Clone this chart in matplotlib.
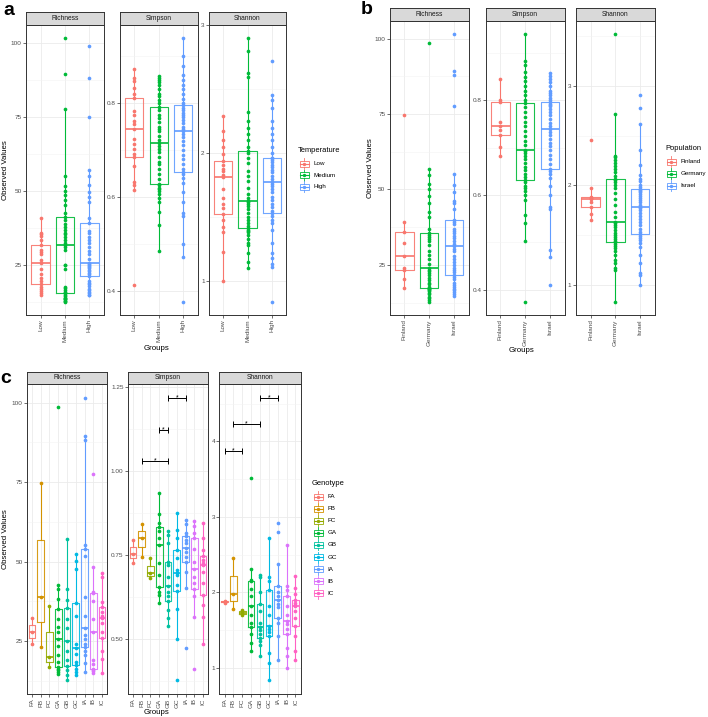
import numpy as np
import matplotlib
matplotlib.use("Agg")
import matplotlib.pyplot as plt
from matplotlib.ticker import MultipleLocator, FormatStrFormatter
from matplotlib.patches import Rectangle

plt.rcParams['font.family'] = ['Liberation Sans', 'DejaVu Sans']

# ---- categorias y colores
temp_groups = ["Low", "Medium", "High"]
pop_groups = ["Finland", "Germany", "Israel"]
geno_groups = ["FA", "FB", "FC", "GA", "GB", "GC", "IA", "IB", "IC"]
pal3 = ["#F8766D", "#00BA38", "#619CFF"]
pal9 = ["#F8766D", "#D39200", "#93AA00", "#00BA38", "#00C19F",
        "#00B9E3", "#619CFF", "#DB72FB", "#FF61C3"]

# ---- panel a (Temperature)
a_richness = [
    [14.8, 15.5, 16.3, 17, 17.7, 18.7, 19.5, 20.7, 22.1, 23.8, 25.6, 26.9, 28.6, 29.5, 30, 31.7, 33.4, 35, 35.5, 36, 41],
    [12.6, 13, 13, 13.5, 13.5, 14, 14, 14.5, 15, 15.5, 15.7, 16, 16.5, 17.3, 17.5, 23.8, 24.9, 25, 30, 31, 31.8,
     32.5, 33.4, 34.5, 35.5, 36, 37, 38, 39, 40.4, 41.3, 42.6, 45.4, 47.1, 48.8, 50.2, 51.6, 55.2, 77.6, 89.5, 101.7],
    [14.8, 15, 15.5, 16, 16.6, 17, 17.9, 18.5, 19, 19.6, 21.4, 22, 22.4, 23, 23.3, 24, 24.2, 24.7, 25, 25.5, 25.8,
     27.1, 28.6, 29.7, 31.2, 32.5, 33.4, 34.5, 35.9, 36.4, 39.2, 41, 46.5, 48, 49.6, 52.1, 55.2, 57, 74.9, 88.2, 98.9],
]
a_simpson = [
    [0.411, 0.614, 0.625, 0.632, 0.665, 0.686, 0.692, 0.703, 0.713, 0.724, 0.745, 0.755, 0.763, 0.774, 0.783,
     0.811, 0.82, 0.833, 0.848, 0.855, 0.873],
    [0.485, 0.54, 0.568, 0.59, 0.598, 0.607, 0.612, 0.617, 0.62, 0.625, 0.627, 0.638, 0.65, 0.66, 0.67, 0.675,
     0.685, 0.695, 0.703, 0.708, 0.715, 0.722, 0.73, 0.74, 0.745, 0.75, 0.76, 0.768, 0.775, 0.785, 0.793, 0.8,
     0.806, 0.815, 0.82, 0.83, 0.838, 0.845, 0.85, 0.855, 0.859],
    [0.376, 0.472, 0.5, 0.56, 0.565, 0.59, 0.61, 0.63, 0.64, 0.648, 0.653, 0.66, 0.67, 0.68, 0.69, 0.7, 0.71,
     0.72, 0.728, 0.735, 0.74, 0.745, 0.75, 0.758, 0.765, 0.77, 0.775, 0.78, 0.785, 0.79, 0.796, 0.8, 0.81, 0.82,
     0.83, 0.84, 0.85, 0.86, 0.88, 0.9, 0.939],
]
a_shannon = [
    [1.0, 1.23, 1.38, 1.42, 1.48, 1.522, 1.57, 1.6, 1.65, 1.72, 1.81, 1.83, 1.86, 1.88, 1.91, 1.939, 1.99, 2.05,
     2.1, 2.17, 2.288],
    [1.098, 1.15, 1.22, 1.28, 1.3, 1.33, 1.36, 1.38, 1.39, 1.4, 1.414, 1.43, 1.45, 1.48, 1.5, 1.53, 1.56, 1.59,
     1.6, 1.62, 1.627, 1.65, 1.68, 1.73, 1.78, 1.82, 1.86, 1.92, 1.96, 2.0, 2.017, 2.05, 2.1, 2.15, 2.2, 2.25,
     2.32, 2.6, 2.63, 2.8, 2.9],
    [0.837, 1.108, 1.13, 1.18, 1.22, 1.3, 1.4, 1.45, 1.48, 1.51, 1.532, 1.55, 1.58, 1.6, 1.63, 1.66, 1.7, 1.72,
     1.74, 1.76, 1.776, 1.8, 1.82, 1.85, 1.87, 1.89, 1.91, 1.93, 1.95, 1.96, 1.966, 2.0, 2.05, 2.1, 2.15, 2.2,
     2.25, 2.35, 2.42, 2.454, 2.725],
]

# ---- panel b (Population)
b_richness = [
    [17.2, 20.3, 23.3, 24.1, 28, 32.4, 36, 39.2, 74.7],
    [12.8, 13.2, 13.9, 14.5, 15.3, 15.8, 16.4, 16.6, 16.9, 17.0, 17.2, 17.8, 18.5, 19.1, 20, 20.8, 21.5, 22.2, 23,
     23.3, 23.8, 25.2, 26.9, 28.2, 29.6, 31.5, 32.9, 33.5, 34.3, 35, 35.4, 36.9, 40.9, 42.5, 45.6, 47.8, 50.2,
     51.9, 54.9, 56.9, 98.6],
    [14.8, 15.2, 15.9, 16.5, 17, 17.5, 18.2, 19, 20.3, 21, 21.6, 22.5, 23.2, 24.1, 25, 25.8, 27, 28, 29.6, 30.3,
     31.1, 32, 32.9, 33.8, 34.6, 35.5, 36.2, 37, 38.7, 39.3, 39.9, 43.4, 45.6, 46.1, 49.1, 51.6, 55.1, 77.5, 87.9,
     89.3, 101.4],
]
b_simpson = [
    [0.682, 0.702, 0.726, 0.737, 0.746, 0.754, 0.796, 0.8, 0.844],
    [0.375, 0.502, 0.54, 0.558, 0.59, 0.6, 0.608, 0.614, 0.62, 0.627, 0.632, 0.638, 0.645, 0.652, 0.66, 0.668,
     0.675, 0.682, 0.688, 0.692, 0.696, 0.705, 0.715, 0.725, 0.735, 0.745, 0.755, 0.765, 0.775, 0.785, 0.795, 0.8,
     0.81, 0.82, 0.83, 0.84, 0.85, 0.86, 0.874, 0.882, 0.939],
    [0.41, 0.47, 0.485, 0.57, 0.575, 0.6, 0.62, 0.635, 0.645, 0.65, 0.655, 0.665, 0.675, 0.685, 0.695, 0.703,
     0.71, 0.718, 0.726, 0.733, 0.74, 0.745, 0.752, 0.76, 0.768, 0.775, 0.781, 0.787, 0.79, 0.793, 0.796, 0.8,
     0.805, 0.81, 0.815, 0.82, 0.83, 0.838, 0.845, 0.852, 0.858],
]
b_shannon = [
    [1.652, 1.71, 1.779, 1.83, 1.86, 1.87, 1.886, 1.977, 2.455],
    [0.833, 1.15, 1.17, 1.22, 1.25, 1.3, 1.34, 1.37, 1.39, 1.41, 1.428, 1.44, 1.46, 1.48, 1.5, 1.52, 1.55, 1.58,
     1.6, 1.62, 1.635, 1.68, 1.73, 1.8, 1.86, 1.92, 1.97, 2.0, 2.03, 2.05, 2.07, 2.1, 2.14, 2.17, 2.2, 2.23, 2.26,
     2.29, 2.3, 2.72, 3.518],
    [1.0, 1.1, 1.12, 1.22, 1.3, 1.38, 1.42, 1.45, 1.47, 1.49, 1.508, 1.53, 1.56, 1.6, 1.63, 1.66, 1.69, 1.72,
     1.75, 1.77, 1.786, 1.8, 1.83, 1.85, 1.87, 1.89, 1.91, 1.93, 1.94, 1.95, 1.963, 1.98, 2.0, 2.04, 2.07, 2.11,
     2.21, 2.36, 2.62, 2.78, 2.906],
]

# ---- panel c (Genotype)
c_richness = [
    [24, 28, 32.2],
    [23.1, 39, 74.8],
    [17, 20, 36],
    [14.8, 15.3, 15.8, 16.3, 16.9, 18.4, 20.5, 23.6, 25.7, 27.8, 29.4, 32, 35.1, 38.2, 41.4, 42.6, 98.7],
    [12.7, 14.2, 15.8, 17.1, 19, 22, 24.9, 29.1, 32, 35.3, 38, 41.4, 57],
    [14.2, 15.3, 16.3, 17.4, 18.4, 21, 22.8, 24.2, 33, 37, 47.8, 50.2, 52.3],
    [15.3, 18, 20.5, 22, 23.1, 24, 25.7, 27, 29.1, 33, 38.8, 51.8, 54.1, 55.1, 88.3, 89.4, 101.4],
    [15.1, 15.6, 15.9, 16.1, 17.9, 19.2, 28, 32, 37.7, 40, 40.5, 48.2, 77.4],
    [15.1, 19.5, 22, 25.9, 27.8, 30.7, 32.2, 33, 34.1, 35.6, 37.2, 45, 46.4],
]
c_simpson = [
    [0.727, 0.753, 0.793],
    [0.745, 0.80, 0.842],
    [0.681, 0.695, 0.74],
    [0.606, 0.63, 0.64, 0.654, 0.69, 0.725, 0.78, 0.8, 0.82, 0.834, 0.846, 0.872, 0.936],
    [0.539, 0.563, 0.587, 0.611, 0.626, 0.64, 0.658, 0.685, 0.72, 0.73, 0.785, 0.81, 0.82],
    [0.376, 0.5, 0.59, 0.641, 0.66, 0.69, 0.695, 0.705, 0.74, 0.765, 0.8, 0.825, 0.876],
    [0.472, 0.651, 0.7, 0.73, 0.745, 0.76, 0.77, 0.785, 0.795, 0.805, 0.815, 0.843, 0.854],
    [0.41, 0.566, 0.626, 0.648, 0.665, 0.685, 0.707, 0.73, 0.768, 0.80, 0.815, 0.835, 0.852],
    [0.485, 0.565, 0.6, 0.631, 0.665, 0.7, 0.72, 0.725, 0.735, 0.747, 0.765, 0.8, 0.846],
]
c_shannon = [
    [1.86, 1.875, 1.89],
    [1.78, 1.98, 2.456],
    [1.70, 1.73, 1.77],
    [1.221, 1.33, 1.45, 1.539, 1.6, 1.7, 1.816, 1.95, 2.05, 2.147, 2.17, 2.31, 3.515],
    [1.164, 1.3, 1.35, 1.397, 1.45, 1.5, 1.539, 1.6, 1.75, 1.84, 2.0, 2.2, 2.235],
    [0.837, 1.06, 1.2, 1.428, 1.48, 1.52, 1.56, 1.7, 1.82, 2.037, 2.15, 2.2, 2.72],
    [1.111, 1.42, 1.6, 1.662, 1.8, 1.85, 1.905, 1.95, 2.0, 2.081, 2.37, 2.8, 2.92],
    [1.0, 1.16, 1.27, 1.455, 1.52, 1.58, 1.627, 1.7, 1.82, 1.949, 2.03, 2.09, 2.633],
    [1.102, 1.22, 1.42, 1.552, 1.66, 1.75, 1.816, 1.83, 1.86, 1.896, 1.98, 2.06, 2.213],
]
# comparaciones significativas (grupo1, grupo2, altura)
c_simpson_sig = [("FB", "GB", 1.031), ("GA", "GB", 1.124), ("GB", "IA", 1.218)]
c_shannon_sig = [("FA", "FC", 3.868), ("FB", "GB", 4.229), ("GB", "IA", 4.573)]

W, H = 708, 717
fig = plt.figure(figsize=(W / 100, H / 100), dpi=100)
TXT = "#4D4D4D"
EDGE = "#333333"


def px_rect(x0, y0, x1, y1):
    return [x0 / W, 1 - y1 / H, (x1 - x0) / W, (y1 - y0) / H]


def panel(xs, ys, title, groups, values, colors, step, fmt, sig=None):
    x0, x1 = xs
    y_strip, y_top, y_bot = ys
    ax = fig.add_axes(px_rect(x0, y_top, x1, y_bot))
    pos = np.arange(1, len(groups) + 1)
    bp = ax.boxplot(values, positions=pos, widths=0.75, whis=1.5, showfliers=False,
                    showcaps=False, manage_ticks=False)
    for i, c in enumerate(colors):
        bp['boxes'][i].set(color=c, lw=0.8, alpha=0.9)
        bp['medians'][i].set(color=c, lw=1.2)
        for w in bp['whiskers'][2 * i:2 * i + 2]:
            w.set(color=c, lw=0.8)
        ax.scatter(np.full(len(values[i]), pos[i]), values[i], s=7, color=c, lw=0, zorder=3)
    if sig:
        for g1, g2, yv in sig:
            p1, p2 = groups.index(g1) + 1, groups.index(g2) + 1
            ax.plot([p1, p2], [yv, yv], color='black', lw=0.7)
            ax.plot([p1, p2], [yv, yv], ls='none', marker='|', ms=5, mew=0.7, color='black')
            ax.text((p1 + p2) / 2, yv, '*', ha='center', va='center', fontsize=5)
    ax.set_xlim(0.4, len(groups) + 0.6)
    ax.margins(y=0.05)
    ax.set_xticks(pos)
    ax.set_xticklabels(groups, rotation=90)
    ax.yaxis.set_major_locator(MultipleLocator(step))
    ax.yaxis.set_minor_locator(MultipleLocator(step / 2))
    ax.yaxis.set_major_formatter(FormatStrFormatter(fmt))
    ax.tick_params(which='major', length=2, width=0.5, color=EDGE, labelsize=4.6,
                   labelcolor=TXT, pad=1)
    ax.tick_params(which='minor', length=0)
    ax.grid(True, which='major', color='#EBEBEB', lw=0.6)
    ax.grid(True, which='minor', axis='y', color='#F3F3F3', lw=0.4)
    ax.set_axisbelow(True)
    for s in ax.spines.values():
        s.set(color=EDGE, lw=0.7)
    st = fig.add_axes(px_rect(x0, y_strip, x1, y_top))
    st.set_facecolor('#D9D9D9')
    st.set_xticks([])
    st.set_yticks([])
    for s in st.spines.values():
        s.set(color=EDGE, lw=0.7)
    st.text(0.5, 0.5, title, ha='center', va='center', fontsize=4.8, color='#1A1A1A',
            transform=st.transAxes)
    return ax


titles = ["Richness", "Simpson", "Shannon"]
steps_ab = [(25, '%d'), (0.2, '%.1f'), (1, '%d')]
steps_c = [(25, '%d'), (0.25, '%.2f'), (1, '%d')]

# panel a
a_x = [(26, 104), (119.6, 198), (208.8, 286.2)]
for xs, t, vals, (st_, f) in zip(a_x, titles, [a_richness, a_simpson, a_shannon], steps_ab):
    panel(xs, (11.7, 25, 315), t, temp_groups, vals, pal3, st_, f)

# panel b
b_x = [(389.5, 468.7), (485.5, 564.8), (575.7, 654.8)]
for xs, t, vals, (st_, f) in zip(b_x, titles, [b_richness, b_simpson, b_shannon], steps_ab):
    panel(xs, (8.3, 21, 315), t, pop_groups, vals, pal3, st_, f)

# panel c
c_x = [(26.7, 107.3), (127.7, 208.3), (219.3, 300.7)]
c_sig = [None, c_simpson_sig, c_shannon_sig]
for xs, t, vals, (st_, f), sg in zip(c_x, titles, [c_richness, c_simpson, c_shannon], steps_c, c_sig):
    panel(xs, (371.7, 384, 694.3), t, geno_groups, vals, pal9, st_, f, sg)

# capa de textos y leyendas en pixeles
ov = fig.add_axes([0, 0, 1, 1])
ov.set_xlim(0, W)
ov.set_ylim(H, 0)
ov.axis('off')

for lab, x, y in [("a", 3, 15), ("b", 361, 14), ("c", 0, 383)]:
    ov.text(x, y, lab, fontsize=14, fontweight='bold', va='baseline')
for x, y in [(6, 170), (370, 168), (6, 539)]:
    ov.text(x, y, "Observed Values", rotation=90, ha='center', va='center', fontsize=5.7)
for x, y in [(157, 349), (521.7, 350), (157, 712.5)]:
    ov.text(x, y, "Groups", ha='center', va='center', fontsize=5.7)


def legend(x, y_title, y0, dy, title, labels, colors):
    ov.text(x, y_title, title, fontsize=5.4, va='center')
    for i, (lab, c) in enumerate(zip(labels, colors)):
        cy = y0 + i * dy
        cx = x + 6
        ov.add_patch(Rectangle((cx - 4.5, cy - 3), 9, 6, fill=False, edgecolor=c, lw=0.6))
        ov.plot([cx - 4.5, cx + 4.5], [cy, cy], color=c, lw=0.8)
        ov.plot([cx, cx], [cy - 3, cy - 5.5], color=c, lw=0.6)
        ov.plot([cx, cx], [cy + 3, cy + 5.5], color=c, lw=0.6)
        ov.scatter([cx], [cy], s=6, color=c, lw=0)
        ov.text(x + 15.5, cy, lab, fontsize=4.5, va='center')


legend(298, 150.7, 163.5, 11.7, "Temperature", temp_groups, pal3)
legend(665, 148.3, 161.7, 12.0, "Population", pop_groups, pal3)
legend(312, 483.3, 496.7, 12.07, "Genotype", geno_groups, pal9)

fig.savefig("out.png", dpi=100)
